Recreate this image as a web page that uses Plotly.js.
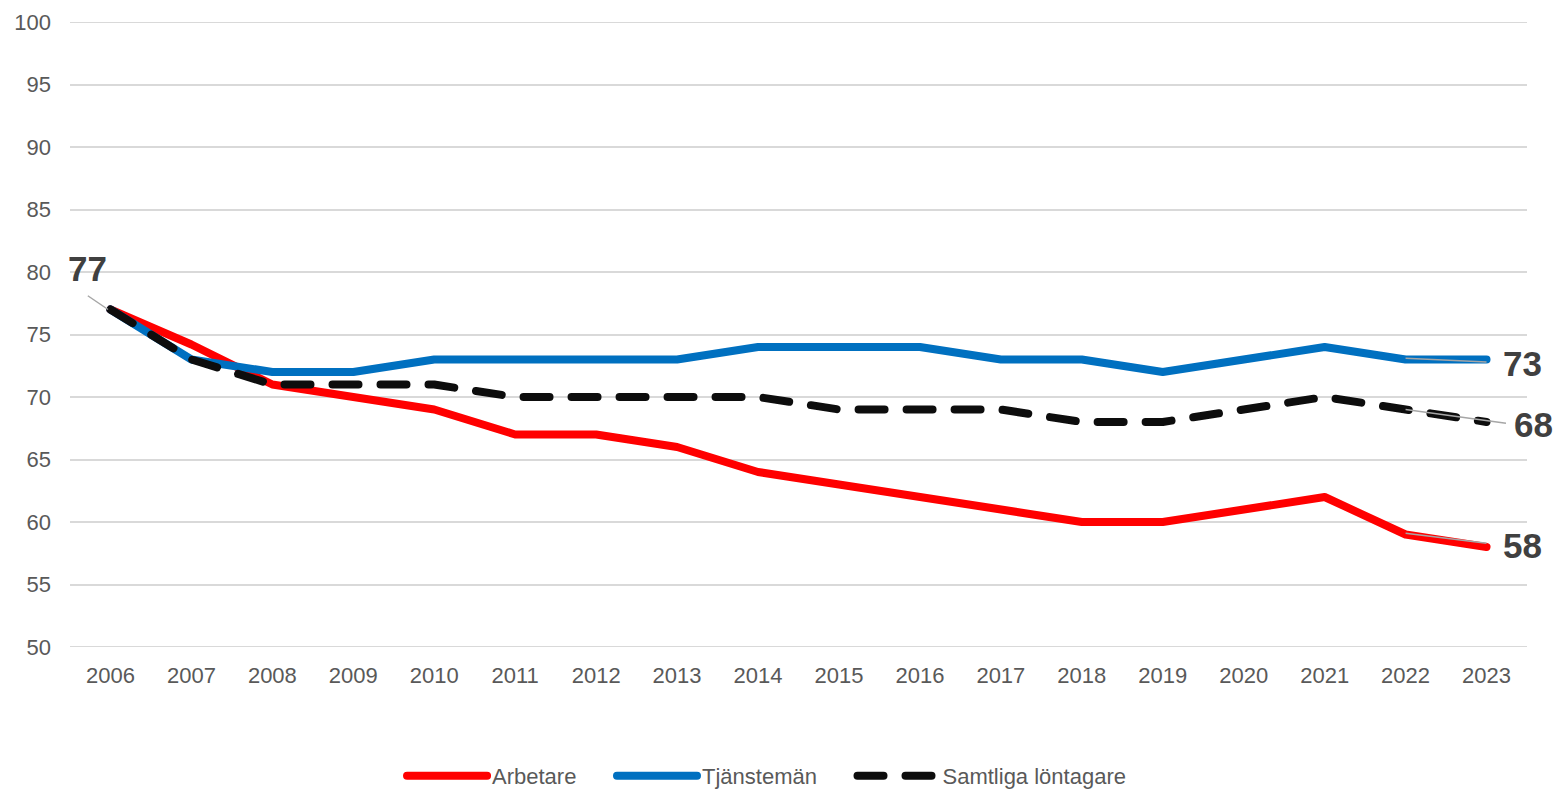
<!DOCTYPE html>
<html>
<head>
<meta charset="utf-8">
<script src="https://cdn.plot.ly/plotly-3.0.1.min.js"></script>
<style>
  html, body { margin: 0; padding: 0; background: #fff; }
  #chart { width: 1558px; height: 791px; }
  .js-line { stroke-linecap: round; stroke-linejoin: round; }
</style>
</head>
<body>
<div id="chart"></div>
<script>
const years = ['2006','2007','2008','2009','2010','2011','2012','2013','2014','2015','2016','2017','2018','2019','2020','2021','2022','2023'];
const arbetare   = [77, 74.2, 71, 70, 69, 67, 67, 66, 64, 63, 62, 61, 60, 60, 61, 62, 59, 58];
const tjansteman = [77, 73, 72, 72, 73, 73, 73, 73, 74, 74, 74, 73, 73, 72, 73, 74, 73, 73];
const samtliga   = [77, 73, 71, 71, 71, 70, 70, 70, 70, 69, 69, 69, 68, 68, 69, 70, 69, 68];
const seriesNames = ['Arbetare', 'Tjänstemän', 'Samtliga löntagare'];
const yTicks = [50, 55, 60, 65, 70, 75, 80, 85, 90, 95, 100];

const pad = n => '\u00a0'.repeat(n);
const last = years.length - 1;
const yMax = yTicks[yTicks.length - 1];
const yMin = yTicks[0];
const traces = [
  { x: years, y: arbetare, name: seriesNames[0] + pad(5), type: 'scatter', mode: 'lines',
    line: { color: '#ff0000', width: 8 } },
  { x: years, y: tjansteman, name: seriesNames[1] + pad(5), type: 'scatter', mode: 'lines',
    line: { color: '#0070c0', width: 8 } },
  { x: years, y: samtliga, name: seriesNames[2], type: 'scatter', mode: 'lines',
    line: { color: '#0d0d0d', width: 8, dash: '26px,22px' } }
];

const labelFont = { family: 'Liberation Sans, Arial, sans-serif', size: 35, color: '#404040', weight: 'bold' };
const leader = { color: '#a6a6a6', width: 1.5 };
const edgeGrid = { color: '#d9d9d9', width: 2 };

const layout = {
  width: 1558, height: 791,
  margin: { l: 70, r: 31, t: 22, b: 144 },
  paper_bgcolor: '#ffffff', plot_bgcolor: '#ffffff',
  font: { family: 'Liberation Sans, Arial, sans-serif', size: 22, color: '#595959' },
  xaxis: {
    type: 'category', range: [-0.5, last + 0.5],
    showgrid: false, zeroline: false, showline: false,
    ticks: '', ticklabelstandoff: 13, tickfont: { size: 22, color: '#595959' }, fixedrange: true
  },
  yaxis: {
    range: [yMin, yMax], tickvals: yTicks, ticktext: yTicks.map(String),
    showgrid: true, gridcolor: '#d9d9d9', gridwidth: 2,
    zeroline: false, showline: false, ticks: '', ticklabelstandoff: 18,
    tickfont: { size: 22, color: '#595959' }, fixedrange: true
  },
  showlegend: true,
  legend: {
    orientation: 'h', xref: 'container', yref: 'container',
    x: 0.492, xanchor: 'center', y: 0.019, yanchor: 'middle',
    font: { size: 22, color: '#595959' }, itemwidth: 80, tracegroupgap: 0
  },
  shapes: [
    { type: 'line', xref: 'paper', yref: 'y', x0: 0, x1: 1, y0: yMax, y1: yMax, layer: 'below', line: edgeGrid },
    { type: 'line', xref: 'paper', yref: 'y', x0: 0, x1: 1, y0: yMin, y1: yMin, layer: 'below', line: edgeGrid },
    { type: 'line', xref: 'x', yref: 'y', x0: -0.28, y0: 78.1, x1: -0.03, y1: tjansteman[0], line: leader },
    { type: 'line', xref: 'x', yref: 'y', x0: last - 1, y0: tjansteman[last] + 0.1, x1: last, y1: tjansteman[last] - 0.2, line: leader },
    { type: 'line', xref: 'x', yref: 'y', x0: last - 1, y0: samtliga[last - 1], x1: last + 0.24, y1: samtliga[last] - 0.1, line: leader },
    { type: 'line', xref: 'x', yref: 'y', x0: last - 1, y0: arbetare[last - 1] + 0.1, x1: last, y1: arbetare[last] + 0.3, line: leader }
  ],
  annotations: [
    { xref: 'x', yref: 'y', x: 0, y: tjansteman[0], text: String(tjansteman[0]), showarrow: false,
      xanchor: 'center', yanchor: 'middle', xshift: -23, yshift: 41, font: labelFont },
    { xref: 'x', yref: 'y', x: last, y: tjansteman[last], text: String(tjansteman[last]), showarrow: false,
      xanchor: 'left', yanchor: 'middle', xshift: 14, yshift: -4, font: labelFont },
    { xref: 'x', yref: 'y', x: last, y: samtliga[last], text: String(samtliga[last]), showarrow: false,
      xanchor: 'left', yanchor: 'middle', xshift: 25, yshift: -2, font: labelFont },
    { xref: 'x', yref: 'y', x: last, y: arbetare[last], text: String(arbetare[last]), showarrow: false,
      xanchor: 'left', yanchor: 'middle', xshift: 14, yshift: 2, font: labelFont }
  ]
};

Plotly.newPlot('chart', traces, layout, { displayModeBar: false, staticPlot: true });
</script>
</body>
</html>
